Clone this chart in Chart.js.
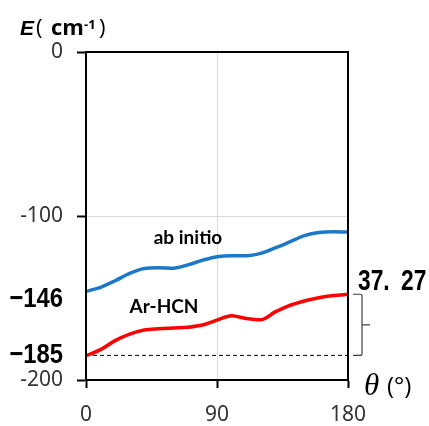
<!DOCTYPE html>
<html>
<head>
<meta charset="utf-8">
<script src="https://cdn.jsdelivr.net/npm/chart.js@4.4.1/dist/chart.umd.min.js"></script>
<style>
  html, body { margin: 0; padding: 0; background: #fff; }
  #wrap { width: 429px; height: 426px; }
</style>
</head>
<body>
<div id="wrap"><canvas id="chart" width="429" height="426"></canvas></div>
<script>
// angle (deg) and potential energy (cm-1)
const theta = [0, 10, 20, 30, 40, 50, 60, 70, 80, 90, 100, 110, 120, 130, 140, 150, 160, 170, 180];
const abInitio = [-146, -143.5, -139.5, -135, -132, -131.5, -131.8, -129.8, -127, -124.8,
                  -124.2, -124.2, -122.8, -119.5, -115.8, -112, -110, -109.6, -109.8];
const arHcn = [-185.2, -181.5, -176, -172, -169.5, -168.8, -168.3, -167.8, -166.5, -163.5,
               -160.8, -162.5, -163.3, -158.5, -154.5, -151.8, -149.8, -148.5, -147.7];
const minLevel = -185;
const maxLevel = -147.7;
const yTicks = [0, -100, -200];
const xTicks = [0, 90, 180];

const toPoints = (ys) => ys.map((y, i) => ({ x: theta[i], y: y }));

// free text, frame and the bracket
const extras = {
    id: 'extras',
    afterDatasetsDraw(chart) {
        const { ctx, chartArea: a, scales } = chart;
        const ys = scales.y;
        ctx.save();

        // frame
        ctx.strokeStyle = '#000';
        ctx.lineWidth = 2;
        ctx.strokeRect(a.left, a.top, a.right - a.left, a.bottom - a.top);

        // bracket for the difference
        const yTop = ys.getPixelForValue(maxLevel);
        const yBot = ys.getPixelForValue(minLevel);
        const bx = a.right + 14;
        ctx.strokeStyle = '#404040';
        ctx.lineWidth = 1.2;
        ctx.beginPath();
        ctx.moveTo(a.right + 5, yTop);
        ctx.lineTo(bx - 2, yTop);
        ctx.quadraticCurveTo(bx, yTop, bx, yTop + 2);
        ctx.lineTo(bx, yBot - 2);
        ctx.quadraticCurveTo(bx, yBot, bx - 2, yBot);
        ctx.lineTo(a.right + 5, yBot);
        ctx.moveTo(bx, (yTop + yBot) / 2);
        ctx.lineTo(bx + 8, (yTop + yBot) / 2);
        ctx.stroke();

        ctx.fillStyle = '#000';
        ctx.textBaseline = 'alphabetic';

        // condensed bold numbers
        const narrow = (txt, x, y, size, sx, align) => {
            ctx.save();
            ctx.font = 'bold ' + size + 'px "Liberation Sans"';
            ctx.textAlign = align;
            ctx.translate(x, y);
            ctx.scale(sx, 1);
            ctx.fillText(txt, 0, 0);
            ctx.restore();
        };
        narrow('\u2212146', 63, ys.getPixelForValue(-146) + 16, 28, 0.85, 'right');
        narrow('\u2212185', 63, ys.getPixelForValue(-185) + 8, 28, 0.85, 'right');
        narrow('37.', 358, 290, 30, 0.76, 'left');
        narrow('27', 401, 290, 30, 0.76, 'left');

        // series names
        ctx.font = 'bold 19px Lato';
        ctx.textAlign = 'center';
        ctx.fillText('ab initio', 188, 244);
        ctx.fillText('Ar-HCN', 164, 313);

        // axis titles
        ctx.textAlign = 'left';
        ctx.font = 'italic bold 21px "Liberation Sans"';
        ctx.fillText('E', 20, 35);
        ctx.font = '22px "Open Sans"';
        ctx.fillText('(', 36, 35);
        ctx.font = 'bold 22px "Open Sans"';
        ctx.fillText('cm', 51, 35);
        ctx.font = 'bold 13px "Open Sans"';
        ctx.fillText('-1', 84, 29);
        ctx.font = '22px "Open Sans"';
        ctx.fillText(')', 99, 35);

        ctx.font = 'italic 31px "Liberation Serif"';
        ctx.fillText('\u03B8', 364, 395);
        ctx.font = '24px "Open Sans"';
        ctx.fillText('(\u00B0)', 387, 394);

        ctx.restore();
    }
};

new Chart(document.getElementById('chart'), {
    type: 'line',
    data: {
        datasets: [
            {
                label: 'ab initio',
                data: toPoints(abInitio),
                borderColor: '#1e78c8',
                borderWidth: 3.5,
                pointRadius: 0,
                cubicInterpolationMode: 'monotone'
            },
            {
                label: 'Ar-HCN',
                data: toPoints(arHcn),
                borderColor: '#ff0000',
                borderWidth: 3.5,
                pointRadius: 0,
                cubicInterpolationMode: 'monotone'
            },
            {
                label: 'min',
                data: [{ x: theta[0], y: minLevel }, { x: theta[theta.length - 1], y: minLevel }],
                borderColor: '#000',
                borderWidth: 1,
                borderDash: [4, 3],
                pointRadius: 0
            }
        ]
    },
    options: {
        responsive: false,
        animation: false,
        layout: { padding: { top: 52, right: 81, left: 0, bottom: 0 } },
        plugins: {
            legend: { display: false },
            tooltip: { enabled: false }
        },
        scales: {
            x: {
                type: 'linear',
                min: 0,
                max: 180,
                afterBuildTicks: (s) => { s.ticks = xTicks.map(v => ({ value: v })); },
                afterFit: (s) => { s.height = 46; },
                ticks: {
                    color: '#333',
                    padding: 14,
                    font: { family: 'Noto Sans', size: 21 }
                },
                grid: { color: '#d9d9d9', tickColor: '#000', tickWidth: 2, tickLength: 8 },
                border: { color: '#000', width: 2 }
            },
            y: {
                min: -200,
                max: 0,
                afterBuildTicks: (s) => { s.ticks = yTicks.map(v => ({ value: v })); },
                afterFit: (s) => { s.width = 86; },
                ticks: {
                    color: '#333',
                    padding: 14,
                    font: { family: 'Noto Sans', size: 21 }
                },
                grid: { color: '#d9d9d9', tickColor: '#000', tickWidth: 2, tickLength: 9 },
                border: { color: '#000', width: 2 }
            }
        }
    },
    plugins: [extras]
});
</script>
</body>
</html>
